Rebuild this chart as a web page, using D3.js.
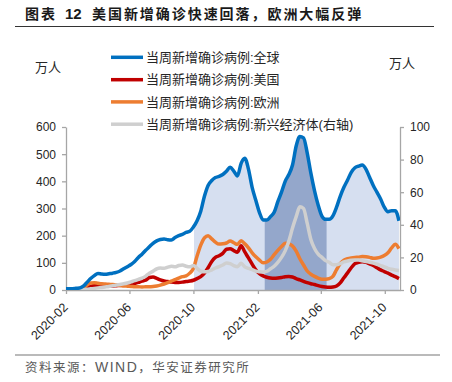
<!DOCTYPE html>
<html><head><meta charset="utf-8">
<script src="https://cdn.jsdelivr.net/npm/d3@7"></script>
<style>body{margin:0;background:#fff} svg{display:block}</style>
</head><body><svg id="c" width="452" height="382"></svg>
<script>
// ---- data (weekly, 万人) ----
const startDate = "2020-01-30";
const globalCases = [5,5,5,6,7,14,28,42,53,61, 59,58,60,62,65,70,78,86,94,105, 120,132,146,159,172,181,186,188,185,184, 193,200,205,212,216,232,255,290,345,385, 403,414,418,425,437,452,438,420,466,485, 445,378,330,285,258,258,270,286,325,360, 400,425,460,530,565,560,505,430,365,312, 272,260,260,273,305,345,378,405,433,450, 456,460,445,415,385,360,335,305,288,292, 292,255];
const usCases = [0,0,0,0,1,3,8,13,17,17, 16,15,15,15,16,17,18,19,21,24, 28,33,36,46,48,43,37,33,31,29, 28,28,29,31,33,36,42,49,62,82, 105,120,126,135,150,152,145,139,163,140, 118,95,74,60,52,47,44,43,44,46, 49,50,48,42,37,32,27,23,20,16, 13,11,10,11,15,26,45,63,82,97, 102,104,102,96,90,82,74,68,62,55, 49,42];
const europeCases = [1,1,2,3,5,8,18,26,27,25, 23,22,21,20,18,17,15,14,13,12, 12,11,12,12,13,15,18,22,27,33, 38,44,49,52,62,80,125,165,192,200, 188,176,169,170,173,180,174,168,181,170, 155,137,122,110,100,103,113,130,146,160, 172,170,162,143,115,92,70,58,50,44, 40,40,42,50,75,97,110,115,118,120, 121,123,122,120,117,118,121,127,137,155, 168,152];
const emergingCases = [0,0,0,0,0,0.2,0.4,0.7,1,1.3, 1.6,1.9,2.2,2.6,3,3.4,3.8,4.3,5,5.7, 6.5,7.3,8.5,10.3,11.5,13,13.5,13.3,14,14.6, 14.2,15,15.4,14.6,14.2,15,13.3,11.5,11.2,11.4, 12.3,13.5,14.3,15.3,16.6,16.2,15,14.3,16.4,14.2, 13.2,12.5,11.6,11.2,11,11.5,13,14.6,17,20, 24,30,38,45,51,50,41,31,25.5,22, 20,18,17,15.5,15.5,16.2,17.2,17.8,18.2,18.4, 18.4,18,17.5,17,16.5,15.8,15,14.2,13.3,12.7, 12.3,12];
const leftTicks = [0,100,200,300,400,500,600];
const rightTicks = [0,20,40,60,80,100];
const xTicks = ["2020-02","2020-06","2020-10","2021-02","2021-06","2021-10"];
const legendLabels = ["当周新增确诊病例:全球","当周新增确诊病例:美国","当周新增确诊病例:欧洲","当周新增确诊病例:新兴经济体(右轴)"];
const lightShade = ["2020-10-02","2021-10-28"];
const darkShade = ["2021-02-14","2021-06-12"];
const xDomain = ["2020-02-01","2021-10-30"];

// ---- setup ----
const svg = d3.select("#c");
const pd = d3.utcParse("%Y-%m-%d"), pm = d3.utcParse("%Y-%m");
const start = pd(startDate);
const dates = globalCases.map((_, i) => d3.utcDay.offset(start, 7 * i));
const x = d3.scaleUtc().domain(xDomain.map(pd)).range([66, 400]);
const yL = d3.scaleLinear().domain([0, 600]).range([290, 127]);
const yR = d3.scaleLinear().domain([0, 100]).range([290, 127]);
const num = "'Liberation Sans', Arial, sans-serif";
const cjk = "'Liberation Sans', 'Noto Sans CJK SC', sans-serif";
const axisCol = "#a6a6a6", txtCol = "#262626";

// title
svg.append("text").attr("x", 25).attr("y", 19).attr("font-family", "'Noto Sans CJK SC'").attr("font-weight", 700)
  .attr("font-size", 14).attr("letter-spacing", 2).attr("fill", "#1a1a1a").text("图表");
svg.append("text").attr("x", 65).attr("y", 19).attr("font-family", num).attr("font-weight", 700)
  .attr("font-size", 15).attr("fill", "#1a1a1a").text("12");
svg.append("text").attr("x", 92).attr("y", 19).attr("font-family", "'Noto Sans CJK SC'").attr("font-weight", 700)
  .attr("font-size", 14).attr("letter-spacing", 1.95).attr("fill", "#1a1a1a").text("美国新增确诊快速回落，欧洲大幅反弹");
svg.append("line").attr("x1", 15).attr("x2", 434).attr("y1", 26.5).attr("y2", 26.5).attr("stroke", "#333").attr("stroke-width", 1);
svg.append("line").attr("x1", 15).attr("x2", 440).attr("y1", 355).attr("y2", 355).attr("stroke", "#777").attr("stroke-width", 1.2);
const src = svg.append("text").attr("x", 25).attr("y", 372).attr("font-size", 12.5).attr("fill", "#595959")
  .attr("font-family", "'Noto Sans CJK SC'").attr("letter-spacing", 1.5);
src.append("tspan").text("资料来源：");
src.append("tspan").attr("font-family", num).attr("font-size", 14).text("WIND");
src.append("tspan").text("，华安证券研究所");

// units
svg.append("text").attr("x", 35).attr("y", 72).attr("font-family", cjk).attr("font-size", 13).attr("fill", txtCol).text("万人");
svg.append("text").attr("x", 389).attr("y", 68).attr("font-family", cjk).attr("font-size", 13).attr("fill", txtCol).text("万人");

// clip paths
const defs = svg.append("defs");
defs.append("clipPath").attr("id", "plot").append("rect").attr("x", 66).attr("y", 0).attr("width", 334).attr("height", 290);
defs.append("clipPath").attr("id", "light").append("rect")
  .attr("x", x(pd(lightShade[0]))).attr("y", 0).attr("width", x(pd(lightShade[1])) - x(pd(lightShade[0])) + 2).attr("height", 290);
defs.append("clipPath").attr("id", "dark").append("rect")
  .attr("x", x(pd(darkShade[0]))).attr("y", 0).attr("width", x(pd(darkShade[1])) - x(pd(darkShade[0]))).attr("height", 290);

const curve = d3.curveMonotoneX;
const area = d3.area().x((d, i) => x(dates[i])).y0(yL(0)).y1(d => yL(d)).curve(curve);
svg.append("path").datum(globalCases).attr("d", area).attr("fill", "#d6dff0").attr("clip-path", "url(#light)");
svg.append("path").datum(globalCases).attr("d", area).attr("fill", "#94a7cb").attr("clip-path", "url(#dark)");

// axes
function styleAxis(g) {
  g.selectAll("path,line").attr("stroke", axisCol).attr("stroke-width", 1.3);
  g.selectAll("text").attr("font-family", num).attr("font-size", 12).attr("fill", txtCol);
}
svg.append("g").attr("transform", "translate(66,0)")
  .call(d3.axisLeft(yL).tickValues(leftTicks).tickSize(4).tickSizeOuter(0).tickPadding(6)).call(styleAxis);
svg.append("g").attr("transform", "translate(400,0)")
  .call(d3.axisRight(yR).tickValues(rightTicks).tickSize(4).tickSizeOuter(0).tickPadding(6)).call(styleAxis);
const xa = svg.append("g").attr("transform", "translate(0,290)")
  .call(d3.axisBottom(x).tickValues(xTicks.map(pm)).tickFormat(d3.utcFormat("%Y-%m")).tickSize(4).tickSizeOuter(0)).call(styleAxis);
xa.selectAll("text").attr("text-anchor", "end").attr("dy", "0.35em").attr("font-size", 12.5)
  .attr("transform", "translate(-1,15) rotate(-45)").attr("y", 0).attr("x", 0);

// lines
const lineL = d3.line().x((d, i) => x(dates[i])).y(d => yL(d)).curve(curve);
const lineR = d3.line().x((d, i) => x(dates[i])).y(d => yR(d)).curve(curve);
const series = [
  {v: usCases, c: "#c00000", f: lineL},
  {v: europeCases, c: "#ed7d31", f: lineL},
  {v: emergingCases, c: "#cfcfcf", f: lineR},
  {v: globalCases, c: "#0070c0", f: lineL}
];
const pg = svg.append("g").attr("clip-path", "url(#plot)");
series.forEach(s => pg.append("path").datum(s.v).attr("d", s.f).attr("fill", "none")
  .attr("stroke", s.c).attr("stroke-width", 3.5).attr("stroke-linejoin", "round"));

// legend
const legCols = ["#0070c0", "#c00000", "#ed7d31", "#cfcfcf"];
const legY = [57.3, 79.7, 101.9, 124.2];
legendLabels.forEach((t, i) => {
  svg.append("line").attr("x1", 111).attr("x2", 143).attr("y1", legY[i]).attr("y2", legY[i])
    .attr("stroke", legCols[i]).attr("stroke-width", 3.5);
  svg.append("text").attr("x", 146).attr("y", legY[i]).attr("dy", "0.36em").attr("font-family", cjk)
    .attr("font-size", 13).attr("fill", txtCol).text(t);
});
</script></body></html>
